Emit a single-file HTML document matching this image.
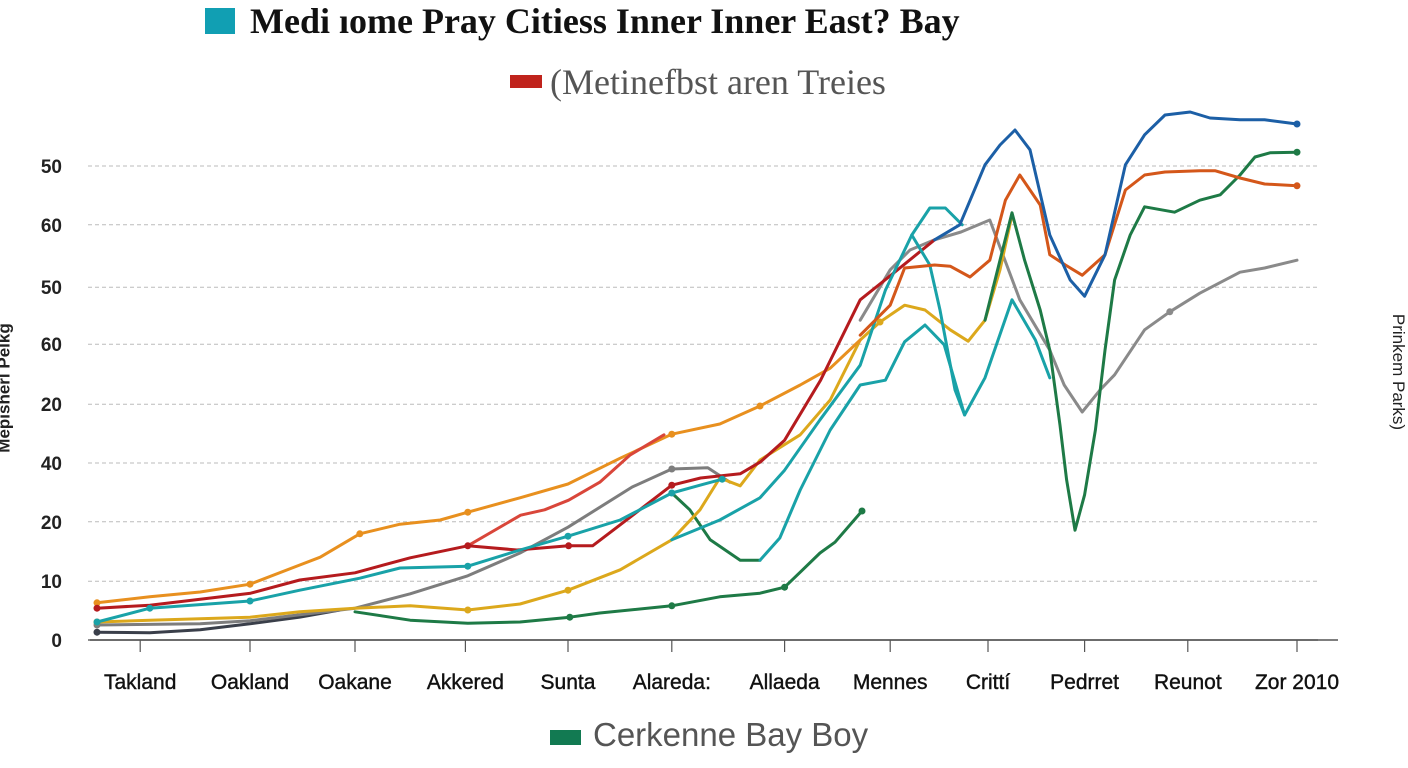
<!DOCTYPE html>
<html><head><meta charset="utf-8">
<style>
html,body{margin:0;padding:0;background:#fff;}
body{width:1408px;height:768px;overflow:hidden;position:relative;font-family:"Liberation Sans",sans-serif;}
.t{position:absolute;white-space:nowrap;}
</style></head>
<body>
<div class="t" style="left:205px;top:8px;width:30px;height:26px;background:#119fb3"></div>
<div class="t" style="left:250px;top:0px;font-family:'Liberation Serif',serif;font-weight:bold;font-size:36px;color:#111">Medi ıome Pray Citiess Inner Inner East? Bay</div>
<div class="t" style="left:510px;top:75px;width:32px;height:13px;background:#c0231c"></div>
<div class="t" style="left:550px;top:61px;font-family:'Liberation Serif',serif;font-size:36px;color:#555">(Metinefbst aren Treies</div>
<div class="t" style="left:550px;top:730px;width:31px;height:15px;background:#127a52"></div>
<div class="t" style="left:593px;top:716px;font-size:33px;color:#555">Cerkenne Bay Boy</div>
<div class="t" style="left:-60px;top:378px;font-size:17px;font-weight:bold;color:#222;transform:rotate(-90deg);">Mepisherl Pelkg</div>
<div class="t" style="left:1340px;top:362px;font-size:17px;color:#222;transform:rotate(90deg);">Prinkem Parks)</div>
<svg id="chart" width="1408" height="768" style="position:absolute;left:0;top:0"></svg>
<script>
const yTicks=[0,9.8,19.7,29.5,39.3,49.3,58.8,69.2,79];
const yTickLabels=["0","10","20","40","20","60","50","60","50"];
const categories=["Takland","Oakland","Oakane","Akkered","Sunta","Alareda:","Allaeda","Mennes","Crittí","Pedrret","Reunot","Zor 2010"];
const catPos=[3.6,12.75,21.5,30.7,39.25,47.9,57.3,66.1,74.25,82.3,90.9,100];
const darkRedX=[0,4.4,12.8,16.9,21.5,26.1,30.9,35,39.3,41.3,43.6,47.9,50.3,53.6,55.3,57.3,60.3,63.6,66.1,69.8];
const darkRedY=[5.3,5.8,7.8,10,11.2,13.7,15.7,15,15.7,15.7,19.2,25.8,27,27.7,29.7,33.3,43.3,56.7,60.7,66.7];
const tomatoX=[30.9,35.3,37.3,39.3,41.9,44.4,47.25];
const tomatoY=[15.7,20.8,21.7,23.3,26.3,30.8,34.2];
const orangeX=[0,4.4,8.6,12.75,16.9,18.6,21.9,25.25,28.6,30.9,35.25,39.25,43.6,47.9,51.9,55.25,58.6,61.1,63.6];
const orangeY=[6.2,7.2,8,9.3,12.5,13.8,17.7,19.3,20,21.3,23.7,26,30.3,34.3,36,39,42.5,45.3,50];
const dkOrangeX=[63.6,66.1,67.3,69.8,71.1,72.75,74.4,75.7,76.9,78.6,79.4,80.7,82.1,84,85.7,87.3,89,91.9,93.2,95.25,97.3,100];
const dkOrangeY=[50.8,55.8,62,62.5,62.3,60.5,63.3,73.3,77.5,72.5,64.2,62.5,60.8,64.2,75,77.5,78,78.2,78.2,77,76,75.7];
const blueX=[69.8,71.9,74,75.25,76.5,77.75,79.4,81.1,82.3,84,85.7,87.3,89,91.1,92.75,95.25,97.3,100];
const blueY=[66.7,69.2,79.2,82.5,85,81.7,67.5,60,57.3,64.2,79.2,84.2,87.5,88,87,86.7,86.7,86];
const goldX=[0,4.4,12.75,16.9,21.5,26.1,30.9,35.25,39.25,43.6,47.9,50.25,51.9,53.6,55.25,58.6,61.1,63.6,65.25,67.3,69,71.1,72.6,74,75.25,76.25];
const goldY=[3,3.3,3.8,4.7,5.3,5.7,5,6,8.3,11.7,16.7,21.7,27,25.7,30,34.2,40,50,53,55.8,55,51.7,49.8,53.3,61.7,70.8];
const tealAX=[0,4.4,12.75,16.9,21.9,25.25,30.9,35.25,39.25,43.6,47.9,50.25,52.1];
const tealAY=[3,5.3,6.5,8.3,10.3,12,12.3,15,17.3,20,24.5,25.8,26.8];
const tealBX=[47.9,51.9,55.25,57.3,60.25,63.6,65.7,67.9,69.4,70.7,72.1];
const tealBY=[16.7,20,23.7,28.3,36.7,45.8,58.3,67.5,72,72,69.2];
const tealCX=[55.25,56.9,58.6,61.1,63.6,65.7,67.3,69,70.6,72.3,74,76.25,78.2,79.4];
const tealCY=[13.3,17,25,35,42.5,43.3,49.7,52.5,49.2,37.5,43.7,56.7,50,43.7];
const tealDX=[67.9,69.4,70.25,71.5,72.3];
const tealDY=[67.5,62.5,55,41.7,37.5];
const greyX=[0,8.6,12.75,16.9,21.5,26.1,30.9,35.25,39.25,44.6,47.9,50.9,52.75];
const greyY=[2.5,2.7,3.2,4.2,5.3,7.7,10.7,14.5,18.8,25.5,28.5,28.7,26.3];
const greyRX=[63.6,66.1,67.75,69.8,72,74.4,76.9,79.4,80.6,82.1,83.6,84.8,87.3,89.4,91.9,95.25,97.3,100];
const greyRY=[53.3,61.7,65,66.7,68,70,56.7,48.3,42.5,38,41.7,44.2,51.7,54.7,57.8,61.3,62,63.3];
const navyX=[0,4.4,8.6,12.75,16.9,20.25];
const navyY=[1.3,1.2,1.7,2.7,3.8,5];
const greenX=[21.5,26.1,30.9,35.25,39.4,41.9,47.9,51.9,55.25,57.3,58.6,60.25,61.5,63.75];
const greenY=[4.7,3.3,2.8,3,3.8,4.5,5.7,7.2,7.8,8.8,11.3,14.5,16.3,21.5];
const greenMX=[47.9,49.4,51.1,53.6,55.25];
const greenMY=[24.5,21.7,16.7,13.3,13.3];
const greenRX=[74,75.25,76.25,77.3,78.6,79.4,80.25,80.8,81.5,82.3,83.2,84,84.8,86.1,87.3,89.8,91.9,93.6,95.25,96.5,97.75,100];
const greenRY=[53.3,63.3,71.2,63.3,55,48.3,35.8,26.7,18.3,24.2,35,48.3,60,67.5,72.2,71.3,73.3,74.2,77.5,80.5,81.2,81.3];

const svg=document.getElementById('chart');
const NS='http://www.w3.org/2000/svg';
const xs=u=>97+u*12;
const ys=v=>640-v*6;
function mk(tag,attrs){const e=document.createElementNS(NS,tag);for(const k in attrs)e.setAttribute(k,attrs[k]);svg.appendChild(e);return e;}
yTicks.forEach((t,i)=>{
  const g=mk('line',{x1:88,x2:1318,y1:ys(t),y2:ys(t),stroke:i==0?'#666':'#bbb','stroke-width':i==0?1.5:1,'stroke-dasharray':i==0?'':'4,3'});
  
  
  const tx=mk('text',{x:62,y:ys(t)+7,'text-anchor':'end','font-size':19,'font-weight':'bold',fill:'#222','font-family':'Liberation Sans, sans-serif'});
  tx.textContent=yTickLabels[i];
  
  
});
const ax=mk('line',{x1:90,x2:1338,y1:640,y2:640,stroke:'#555','stroke-width':1.5});


categories.forEach((c,i)=>{
  const tk=mk('line',{x1:xs(catPos[i]),x2:xs(catPos[i]),y1:640,y2:652,stroke:'#555','stroke-width':1.2});
  
  
  const tx=mk('text',{x:xs(catPos[i]),y:689,'text-anchor':'middle','font-size':21,fill:'#111',stroke:'#111','stroke-width':0.4,'font-family':'Liberation Sans, sans-serif'});
  tx.textContent=c;
  
  
});
function series(X,Y,color,name,markers){
  const d=X.map((x,i)=>(i?'L':'M')+xs(x).toFixed(1)+','+ys(Y[i]).toFixed(1)).join(' ');
  const p=mk('path',{d:d,fill:'none',stroke:color,'stroke-width':3,'stroke-linejoin':'round','stroke-linecap':'round'});
  
  
  (markers||[]).forEach(i=>{
    const c=mk('circle',{cx:xs(X[i]),cy:ys(Y[i]),r:3.5,fill:color});
    
    
  });
}
series(navyX,navyY,'#3a3f4a','navy-line',[0]);
series(greyX,greyY,'#7d7d7d','grey-line',[0,10]);
series(greyRX,greyRY,'#8a8a8a','grey-line-right',[13]);
series(greenX,greenY,'#1e7a46','green-line',[4,6,9,13]);
series(greenMX,greenMY,'#1e7a46','green-line-mid',[]);
series(goldX,goldY,'#dca81c','gold-line',[0,6,8,18]);
series(orangeX,orangeY,'#e8901f','orange-line',[0,3,6,9,13,15]);
series(tomatoX,tomatoY,'#d9463a','tomato-line',[]);
series(darkRedX,darkRedY,'#b51b1e','dark-red-line',[0,6,8,11]);
series(tealAX,tealAY,'#19a2a8','teal-line',[0,1,2,6,8,10,12]);
series(tealCX,tealCY,'#19a2a8','teal-line-lower',[]);
series(tealDX,tealDY,'#19a2a8','teal-line-drop',[]);
series(tealBX,tealBY,'#19a2a8','teal-line-upper',[]);
series(greenRX,greenRY,'#1e7a46','green-line-right',[21]);
series(dkOrangeX,dkOrangeY,'#d4571a','dark-orange-line',[21]);
series(blueX,blueY,'#1c5fa6','blue-line',[17]);
</script>
</body></html>
